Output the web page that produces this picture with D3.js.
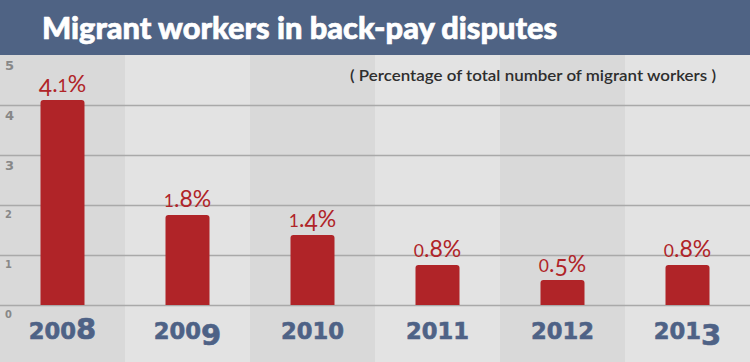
<!DOCTYPE html>
<html>
<head>
<meta charset="utf-8">
<script src="https://cdn.jsdelivr.net/npm/d3@7"></script>
<style>
  html, body { margin: 0; padding: 0; background: #e2e2e2; }
  svg { display: block; }
</style>
</head>
<body>
<div id="chart"></div>
<script>
// Chart data
const years = ['2008', '2009', '2010', '2011', '2012', '2013'];
const shares = [4.1, 1.8, 1.4, 0.8, 0.5, 0.8];
const valueLabels = ['4.1%', '1.8%', '1.4%', '0.8%', '0.5%', '0.8%'];
const yTicks = [0, 1, 2, 3, 4, 5];

const width = 750, height = 362;
const headerH = 55;

const svg = d3.select('#chart').append('svg')
	.attr('width', width)
	.attr('height', height);

// Scales
const x = d3.scaleBand()
	.domain(years)
	.range([0, width]);

const y = d3.scaleLinear()
	.domain([0, 5])
	.range([305, 55]);

// No installed font has old-style figures, so fake them digit by digit:
// 0 1 2 sit at x-height, 3 4 5 7 9 drop below the baseline, 6 8 stay full height
const oldstyle = function(sel, size, small, drop, getText) {
	sel.each(function(d, i) {
		const t = d3.select(this);
		let shift = 0;
		for (const ch of String(getText(d, i))) {
			let fs = size, target = 0;
			if ('012'.includes(ch)) fs = size * small;
			else if ('34579'.includes(ch)) target = size * drop;
			t.append('tspan')
				.attr('dy', target - shift)
				.style('font-size', fs + 'px')
				.text(ch);
			shift = target;
		}
	});
};

// Alternating column backgrounds
svg.append('g').selectAll('rect')
	.data(years)
	.join('rect')
		.attr('x', d => x(d))
		.attr('y', headerH)
		.attr('width', x.bandwidth())
		.attr('height', height - headerH)
		.style('fill', (d, i) => i % 2 == 0 ? '#d9d9d9' : '#e3e3e3');

// Header band
svg.append('rect')
	.attr('width', width)
	.attr('height', headerH)
	.style('fill', '#4f6384');

svg.append('text')
	.attr('x', 42)
	.attr('y', 39)
	.style('font-family', 'Lato, sans-serif')
	.style('font-weight', '900')
	.style('font-size', '31px')
	.style('fill', '#fff')
	.style('stroke', '#fff')
	.style('stroke-width', 0.7)
	.attr('textLength', 515)
	.attr('lengthAdjust', 'spacingAndGlyphs')
	.text('Migrant workers in back-pay disputes');

// Gridlines
svg.append('g').selectAll('line')
	.data(yTicks.slice(0, -1))
	.join('line')
		.attr('x1', 0)
		.attr('x2', width)
		.attr('y1', d => Math.round(y(d)) + 0.5)
		.attr('y2', d => Math.round(y(d)) + 0.5)
		.style('stroke', '#a9a9a9')
		.style('stroke-width', 1.5);

// Tick labels (below each gridline)
svg.append('g').selectAll('text')
	.data(yTicks)
	.join('text')
		.attr('x', 5)
		.attr('y', d => y(d) + 13)
		.style('font-family', '"DejaVu Sans", sans-serif')
		.style('font-weight', 'bold')
		.style('fill', '#888')
		.call(oldstyle, 13, 0.76, 0.15, d => d);

// Subtitle
svg.append('text')
	.attr('x', 350)
	.attr('y', 81)
	.style('font-family', 'Lato, sans-serif')
	.style('font-size', '15px')
	.style('font-weight', '600')
	.style('fill', '#2e2e2e')
	.attr('textLength', 366)
	.attr('lengthAdjust', 'spacingAndGlyphs')
	.text('( Percentage of total number of migrant workers )');

// Bars with rounded tops
const barW = 44;
const r = 3;
const barPath = function(d, i) {
	const x0 = x(years[i]) + x.bandwidth() / 2 - barW / 2;
	const x1 = x0 + barW;
	const y0 = y(0);
	const y1 = y(d);
	return 'M' + x0 + ',' + y0 + 'V' + (y1 + r) + 'Q' + x0 + ',' + y1 + ' ' + (x0 + r) + ',' + y1
		+ 'H' + (x1 - r) + 'Q' + x1 + ',' + y1 + ' ' + x1 + ',' + (y1 + r) + 'V' + y0 + 'Z';
};

svg.append('g').selectAll('path')
	.data(shares)
	.join('path')
		.attr('d', barPath)
		.style('fill', '#b02428');

// Value labels
svg.append('g').selectAll('text')
	.data(shares)
	.join('text')
		.attr('x', (d, i) => x(years[i]) + x.bandwidth() / 2)
		.attr('y', d => y(d) - 8)
		.attr('text-anchor', 'middle')
		.style('font-family', 'Lato, sans-serif')
		.style('fill', '#b02428')
		.style('font-size', '23px')
		.call(oldstyle, 23, 0.76, 0.16, (d, i) => valueLabels[i]);

// Year labels
svg.append('g').selectAll('text')
	.data(years)
	.join('text')
		.attr('x', d => x(d) + x.bandwidth() / 2)
		.attr('y', 339)
		.attr('text-anchor', 'middle')
		.style('font-family', '"DejaVu Sans", sans-serif')
		.style('font-weight', 'bold')
		.style('font-size', '29px')
		.style('fill', '#4e6286')
		.style('stroke', '#4e6286')
		.style('stroke-width', 0.6)
		.call(oldstyle, 29, 0.78, 0.2, d => d);
</script>
</body>
</html>
